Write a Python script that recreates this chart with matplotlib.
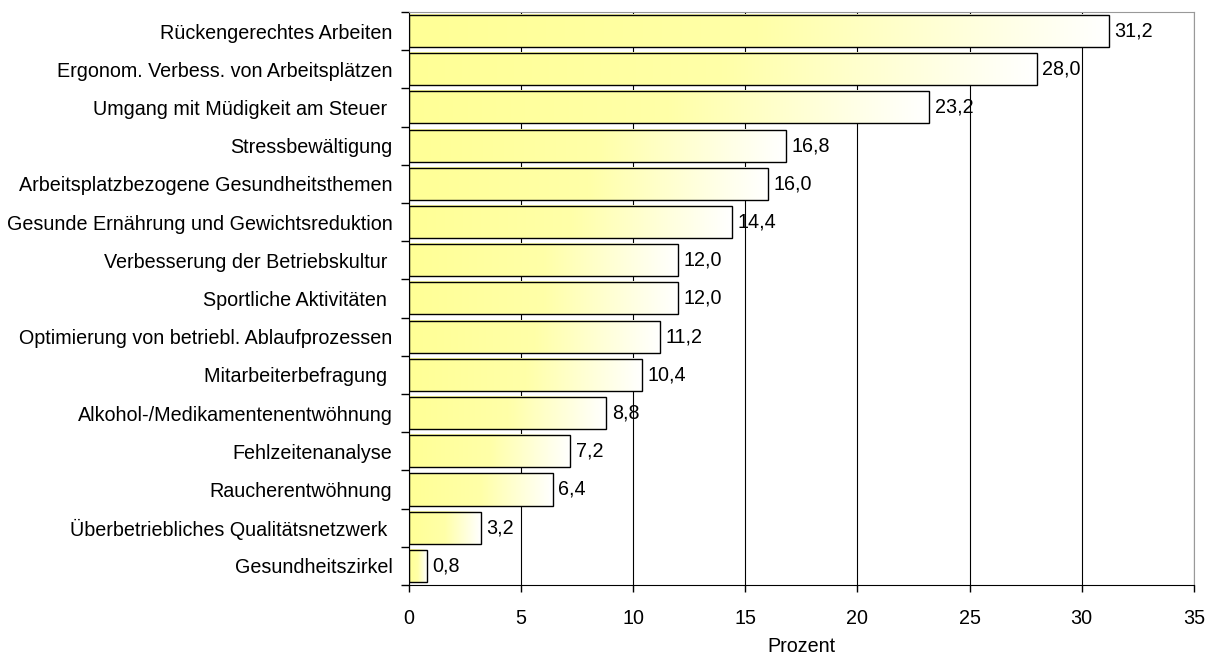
import numpy as np
import matplotlib
matplotlib.use("Agg")
import matplotlib.pyplot as plt
from matplotlib.colors import LinearSegmentedColormap

plt.rcParams["font.family"] = ["Liberation Sans", "DejaVu Sans"]

# ---------- DATA ----------
themen = [
    "Rückengerechtes Arbeiten",
    "Ergonom. Verbess. von Arbeitsplätzen",
    "Umgang mit Müdigkeit am Steuer ",
    "Stressbewältigung",
    "Arbeitsplatzbezogene Gesundheitsthemen",
    "Gesunde Ernährung und Gewichtsreduktion",
    "Verbesserung der Betriebskultur ",
    "Sportliche Aktivitäten ",
    "Optimierung von betriebl. Ablaufprozessen",
    "Mitarbeiterbefragung ",
    "Alkohol-/Medikamentenentwöhnung",
    "Fehlzeitenanalyse",
    "Raucherentwöhnung",
    "Überbetriebliches Qualitätsnetzwerk ",
    "Gesundheitszirkel",
]
prozent = [31.2, 28.0, 23.2, 16.8, 16.0, 14.4, 12.0, 12.0, 11.2, 10.4, 8.8, 7.2, 6.4, 3.2, 0.8]
xticks = [0, 5, 10, 15, 20, 25, 30, 35]

# ---------- PLOT ----------
fig = plt.figure(figsize=(12.12, 6.61), dpi=100)
ax = fig.add_axes([0.3375, 0.115, 0.6475, 0.867])

fs = 14.2
n = len(themen)
ypos = np.arange(n)[::-1]
h = 0.84
cmap = LinearSegmentedColormap.from_list("gelb", ["#ffff96", "#ffffa8", "#ffffff"])
grad = np.linspace(0, 1, 256).reshape(1, -1)

for y, v in zip(ypos, prozent):
    ax.imshow(grad, cmap=cmap, aspect="auto", extent=[0, v, y - h / 2, y + h / 2],
              zorder=2, interpolation="bilinear")
ax.barh(ypos, prozent, height=h, facecolor="none", edgecolor="black", linewidth=1.0, zorder=3)

for y, v in zip(ypos, prozent):
    ax.annotate(f"{v:.1f}".replace(".", ","), (v, y), xytext=(4, 0), textcoords="offset points",
                va="center", ha="left", fontsize=fs, zorder=4)

ax.set_xlim(0, 35)
ax.set_ylim(-0.5, n - 0.5)
ax.set_xticks(xticks)
ax.set_xticklabels([str(t) for t in xticks], fontsize=fs)
ax.tick_params(axis="x", length=5, width=1, pad=12)
ax.set_yticks(ypos)
ax.set_yticklabels(themen, fontsize=fs)
ax.tick_params(axis="y", length=0, pad=12)
ax.set_yticks(np.arange(n + 1) - 0.5, minor=True)
ax.tick_params(axis="y", which="minor", length=6, width=1)
ax.xaxis.grid(True, color="black", linewidth=0.8, zorder=1)
ax.set_axisbelow(True)

ax.spines["left"].set_color("black")
ax.spines["bottom"].set_color("black")
ax.spines["top"].set_color("#999999")
ax.spines["right"].set_color("#999999")
ax.set_xlabel("Prozent", fontsize=fs, labelpad=7)

plt.savefig("out.png", dpi=100)
